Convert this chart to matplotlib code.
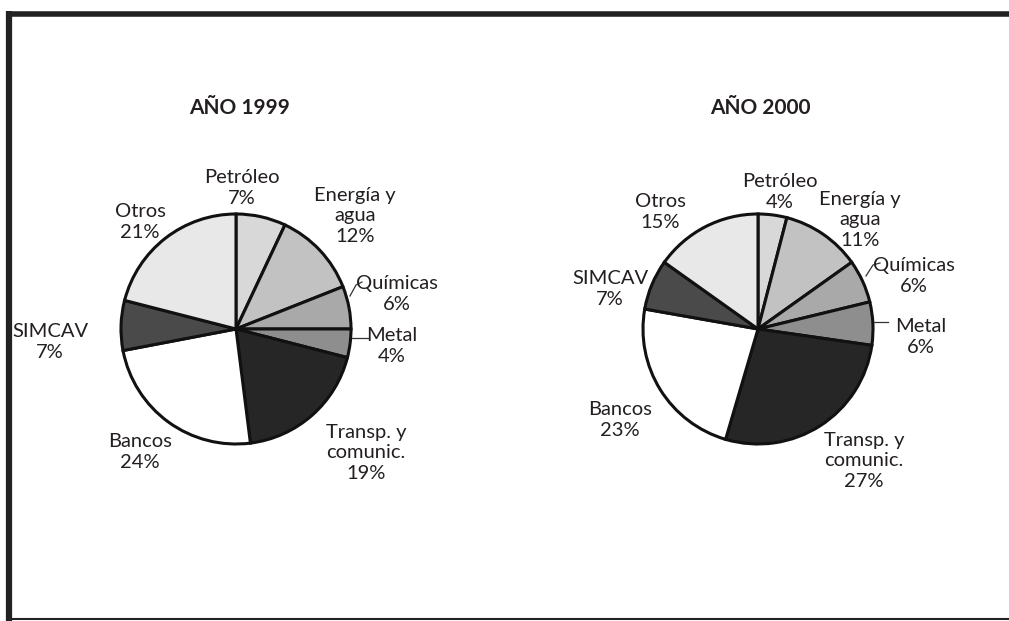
import matplotlib
matplotlib.use("Agg")
import matplotlib.pyplot as plt

# --- data (clockwise from 12 o'clock) ---
sectors = ["Petróleo", "Energía y\nagua", "Químicas", "Metal",
           "Transp. y\ncomunic.", "Bancos", "SIMCAV", "Otros"]
shares_1999 = [7, 12, 6, 4, 19, 24, 7, 21]
shares_2000 = [4, 11, 6, 6, 27, 23, 7, 15]
titles = ["AÑO 1999", "AÑO 2000"]

greys = ["#d8d8d8", "#c2c2c2", "#a9a9a9", "#8e8e8e",
         "#262626", "#ffffff", "#4a4a4a", "#e8e8e8"]

W, H = 1009, 621
plt.rcParams['font.family'] = ['Lato', 'DejaVu Sans']
txt_col = "#231f20"

fig = plt.figure(figsize=(W / 100, H / 100), dpi=100)
ax = fig.add_axes([0, 0, 1, 1])

def py(y):
    # pixel rows from top -> data y
    return H - y

# pie layout in pixel coords: centre, label positions (x, y of text centre)
layouts = [
    dict(center=(236, 329), title_x=240,
         labels=[(242, 188), (355, 216), (397, 294), (392, 346),
                 (366, 453), (140, 452), (50, 342), (140, 222)],
         leaders=[[(350, 296), (356, 285), (362, 282)],
                  [(352, 338), (368, 338)]]),
    dict(center=(758, 329), title_x=760,
         labels=[(780, 192), (860, 220), (914, 276), (921, 337),
                 (864, 461), (620, 420), (610, 289), (660, 212)],
         leaders=[[(866, 276), (873, 265), (880, 263)],
                  [(874, 322), (888, 322)]]),
]
R = 115

for shares, title, lay in zip([shares_1999, shares_2000], titles, layouts):
    cx, cy = lay["center"]
    ax.pie(shares, colors=greys, startangle=90, counterclock=False,
           center=(cx, py(cy)), radius=R, frame=True,
           wedgeprops=dict(edgecolor="#111111", linewidth=2.2))
    ax.text(lay["title_x"], py(108), title, ha="center", va="center",
            fontsize=15, fontweight="bold", color=txt_col)
    for name, val, (lx, ly) in zip(sectors, shares, lay["labels"]):
        ax.text(lx, py(ly), f"{name}\n{val}%", ha="center", va="center",
                fontsize=14.5, color=txt_col, linespacing=1.25)
    for pts in lay["leaders"]:
        ax.plot([p[0] for p in pts], [py(p[1]) for p in pts],
                color="#333333", lw=0.9)

# frame: thick top and left, thin bottom
ax.plot([6, W], [py(13.5), py(13.5)], color="#222222", lw=4, solid_capstyle="butt")
ax.plot([9, 9], [py(11), py(H)], color="#222222", lw=4.5, solid_capstyle="butt")
ax.plot([6, W], [py(619), py(619)], color="#222222", lw=1.5, solid_capstyle="butt")

ax.set_xlim(0, W)
ax.set_ylim(0, H)
ax.set_aspect("equal")
ax.axis("off")

fig.savefig("out.png", dpi=100, facecolor="white")
